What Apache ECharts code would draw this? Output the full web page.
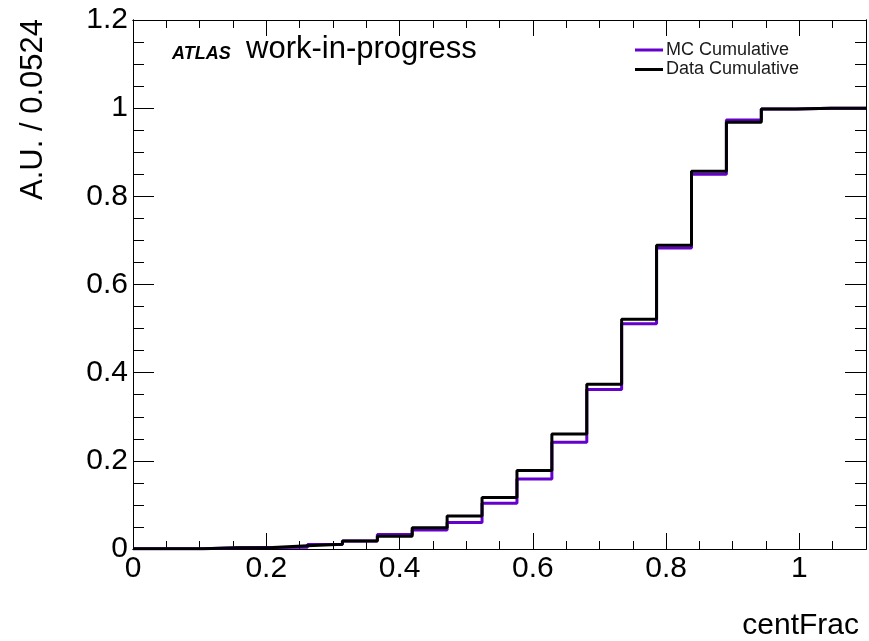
<!DOCTYPE html>
<html>
<head>
<meta charset="utf-8">
<script src="https://cdn.jsdelivr.net/npm/echarts@6/dist/echarts.min.js"></script>
<style>
html,body{margin:0;padding:0;background:#fff;}
#chart{width:869px;height:641px;}
</style>
</head>
<body>
<div id="chart"></div>
<script>
// Bin edges of the histogram (21 bins, width 0.0524)
const binEdges = [0, 0.0524, 0.1048, 0.1571, 0.2095, 0.2619, 0.3143, 0.3667, 0.4190, 0.4714, 0.5238,
  0.5762, 0.6286, 0.6810, 0.7333, 0.7857, 0.8381, 0.8905, 0.9429, 0.9952, 1.0476, 1.1];
// Cumulative values per bin
const mcCumulative = [0.0005, 0.0008, 0.003, 0.0035, 0.004, 0.010, 0.018, 0.033, 0.043, 0.060, 0.104,
  0.159, 0.242, 0.362, 0.511, 0.683, 0.850, 0.973, 0.998, 1.0, 1.0];
const dataCumulative = [0.0005, 0.0008, 0.003, 0.0035, 0.0075, 0.011, 0.018, 0.029, 0.048, 0.075, 0.117,
  0.178, 0.261, 0.374, 0.521, 0.689, 0.857, 0.968, 0.998, 1.0, 1.0];
const seriesNames = ['MC Cumulative', 'Data Cumulative'];
const xTickLabels = ['0', '0.2', '0.4', '0.6', '0.8', '1'];
const yTickLabels = ['0', '0.2', '0.4', '0.6', '0.8', '1', '1.2'];
const xTitle = 'centFrac';
const yTitle = 'A.U. / 0.0524';

const FONT = '"Liberation Sans", Arial, Helvetica, sans-serif';

function stepData(vals) {
  return binEdges.map((e, i) => [e, vals[Math.min(i, vals.length - 1)]]);
}
function fmt(list) {
  return function (v) {
    const s = String(+(+v).toFixed(3));
    return list.indexOf(s) >= 0 ? s : '';
  };
}
function xAx(pos, major) {
  return {
    type: 'value', position: pos, min: 0, max: 1.1, interval: major ? 0.2 : 0.05,
    axisLine: { show: true, onZero: false, lineStyle: { color: '#000', width: 1 } },
    axisTick: { show: true, inside: true, length: major ? 16 : 8, lineStyle: { color: '#000', width: 1 } },
    axisLabel: (major && pos === 'bottom') ? { show: true, margin: 5, fontSize: 30, color: '#000', fontFamily: FONT, formatter: fmt(xTickLabels) } : { show: false },
    splitLine: { show: false }
  };
}
function yAx(pos, major) {
  return {
    type: 'value', position: pos, min: 0, max: 1.2, interval: major ? 0.2 : 0.05,
    axisLine: { show: true, onZero: false, lineStyle: { color: '#000', width: 1 } },
    axisTick: { show: true, inside: true, length: major ? 21 : 11, lineStyle: { color: '#000', width: 1 } },
    axisLabel: (major && pos === 'left') ? { show: true, margin: 5, fontSize: 30, color: '#000', fontFamily: FONT, formatter: fmt(yTickLabels) } : { show: false },
    splitLine: { show: false }
  };
}

const chart = echarts.init(document.getElementById('chart'), null, { renderer: 'canvas' });
chart.setOption({
  animation: false,
  backgroundColor: '#fff',
  grid: { left: 133, right: 3, top: 20, bottom: 92, containLabel: false },
  xAxis: [xAx('bottom', true), xAx('bottom', false), xAx('top', true), xAx('top', false)],
  yAxis: [yAx('left', true), yAx('left', false), yAx('right', true), yAx('right', false)],
  legend: {
    data: seriesNames, orient: 'vertical', left: 635, top: 41, padding: 0,
    icon: 'rect', itemWidth: 28, itemHeight: 3, itemGap: 1.5,
    textStyle: { fontSize: 18, lineHeight: 18, color: '#1a1a1a', fontFamily: FONT, padding: [0, 0, 0, -2] }
  },
  graphic: [
    { type: 'text', left: 172, top: 45, style: { text: 'ATLAS', font: 'italic bold 18px ' + FONT, fill: '#000' } },
    { type: 'text', x: 246, y: 49.5, style: { text: 'work-in-progress', font: '31px ' + FONT, fill: '#000', align: 'left', verticalAlign: 'middle' } },
    { type: 'text', x: 859, y: 626, style: { text: xTitle, font: '30px ' + FONT, fill: '#000', align: 'right', verticalAlign: 'middle' } },
    { type: 'text', x: 33, y: 19, rotation: Math.PI / 2, style: { text: yTitle, font: '31px ' + FONT, fill: '#000', align: 'right', verticalAlign: 'middle' } }
  ],
  series: [
    { name: seriesNames[0], type: 'line', step: 'end', xAxisIndex: 0, yAxisIndex: 0, showSymbol: false, symbol: 'none',
      data: stepData(mcCumulative), lineStyle: { color: '#6600cc', width: 3 }, itemStyle: { color: '#6600cc' } },
    { name: seriesNames[1], type: 'line', step: 'end', xAxisIndex: 0, yAxisIndex: 0, showSymbol: false, symbol: 'none',
      data: stepData(dataCumulative), lineStyle: { color: '#000', width: 3 }, itemStyle: { color: '#000' } }
  ]
});
</script>
</body>
</html>
